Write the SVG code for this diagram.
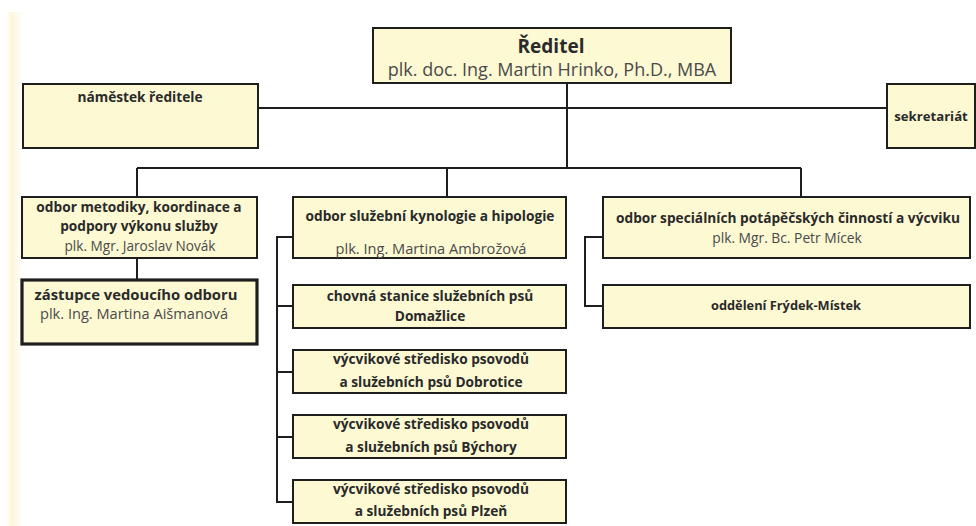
<svg xmlns="http://www.w3.org/2000/svg" width="976" height="526" viewBox="0 0 976 526">
<defs>
<linearGradient id="strip" x1="0" x2="1" y1="0" y2="0">
<stop offset="0" stop-color="#fdf6dc" stop-opacity="0"/>
<stop offset="0.3" stop-color="#fdf6dc"/>
<stop offset="1" stop-color="#fdf6dc" stop-opacity="0"/>
</linearGradient>
</defs>
<style>
.box{fill:#fcf9d3;stroke:#1e1e1e;stroke-width:2}
.thick{stroke-width:3.2}
.t{font-family:"Open Sans","Liberation Sans",sans-serif;font-weight:bold;font-size:13.7px;fill:#2a2a2a;text-anchor:middle}
.n{font-family:"Open Sans","Liberation Sans",sans-serif;font-size:14.2px;fill:#4a4a4a;text-anchor:middle}
.c{fill:none;stroke:#1e1e1e;stroke-width:2}
</style>
<rect width="976" height="526" fill="#ffffff"/>
<rect x="6" y="12" width="18" height="514" fill="url(#strip)"/>
<g id="connectors">
<path class="c" d="M567 83V168M258 108H887M137 168H801M137 168V197M447 168V197M801 168V197M137 258V279"/>
<path class="c" d="M293 237H277V502H293M277 306H293M277 372H293M277 437H293"/>
<path class="c" d="M603 237H585V306H603"/>
</g>
<g id="reditel">
<rect class="box" x="373" y="28" width="358" height="55"/>
<text class="t" x="551" y="53" style="font-size:19px">Ředitel</text>
<text class="n" x="552" y="76" style="font-size:18px">plk. doc. Ing. Martin Hrinko, Ph.D., MBA</text>
</g>
<g id="namestek">
<rect class="box" x="23" y="84" width="235" height="64"/>
<text class="t" x="140" y="102">náměstek ředitele</text>
</g>
<g id="sekretariat">
<rect class="box" x="887" y="84" width="88" height="64"/>
<text class="t" x="931" y="121" style="font-size:13.2px">sekretariát</text>
</g>
<g id="odbor-metodiky">
<rect class="box" x="22" y="197" width="235" height="61"/>
<text class="t" x="139" y="212">odbor metodiky, koordinace a</text>
<text class="t" x="139" y="231">podpory výkonu služby</text>
<text class="n" x="140" y="251" style="font-size:13.6px">plk. Mgr. Jaroslav Novák</text>
</g>
<g id="zastupce">
<rect class="box thick" x="22" y="280" width="235" height="64"/>
<text class="t" x="136" y="300" style="font-size:14.8px">zástupce vedoucího odboru</text>
<text class="n" x="134" y="319" style="font-size:14.6px">plk. Ing. Martina Aišmanová</text>
</g>
<g id="odbor-kynologie">
<rect class="box" x="293" y="197" width="273" height="61"/>
<text class="t" x="430" y="221">odbor služební kynologie a hipologie</text>
<text class="n" x="431" y="254" style="font-size:14.6px">plk. Ing. Martina Ambrožová</text>
</g>
<g id="chovna-stanice">
<rect class="box" x="293" y="285" width="273" height="43"/>
<text class="t" x="430" y="301">chovná stanice služebních psů</text>
<text class="t" x="430" y="321">Domažlice</text>
</g>
<g id="dobrotice">
<rect class="box" x="293" y="350" width="273" height="43"/>
<text class="t" x="431" y="364">výcvikové středisko psovodů</text>
<text class="t" x="431" y="387">a služebních psů Dobrotice</text>
</g>
<g id="bychory">
<rect class="box" x="293" y="415" width="273" height="43"/>
<text class="t" x="431" y="429">výcvikové středisko psovodů</text>
<text class="t" x="431" y="452">a služebních psů Býchory</text>
</g>
<g id="plzen">
<rect class="box" x="293" y="480" width="273" height="43"/>
<text class="t" x="431" y="494">výcvikové středisko psovodů</text>
<text class="t" x="431" y="516">a služebních psů Plzeň</text>
</g>
<g id="odbor-potapecskych">
<rect class="box" x="603" y="197" width="367" height="61"/>
<text class="t" x="788" y="223">odbor speciálních potápěčských činností a výcviku</text>
<text class="n" x="787" y="243" style="font-size:13.8px">plk. Mgr. Bc. Petr Mícek</text>
</g>
<g id="frydek-mistek">
<rect class="box" x="603" y="285" width="367" height="43"/>
<text class="t" x="786" y="310" style="font-size:12.8px">oddělení Frýdek-Místek</text>
</g>
</svg>
